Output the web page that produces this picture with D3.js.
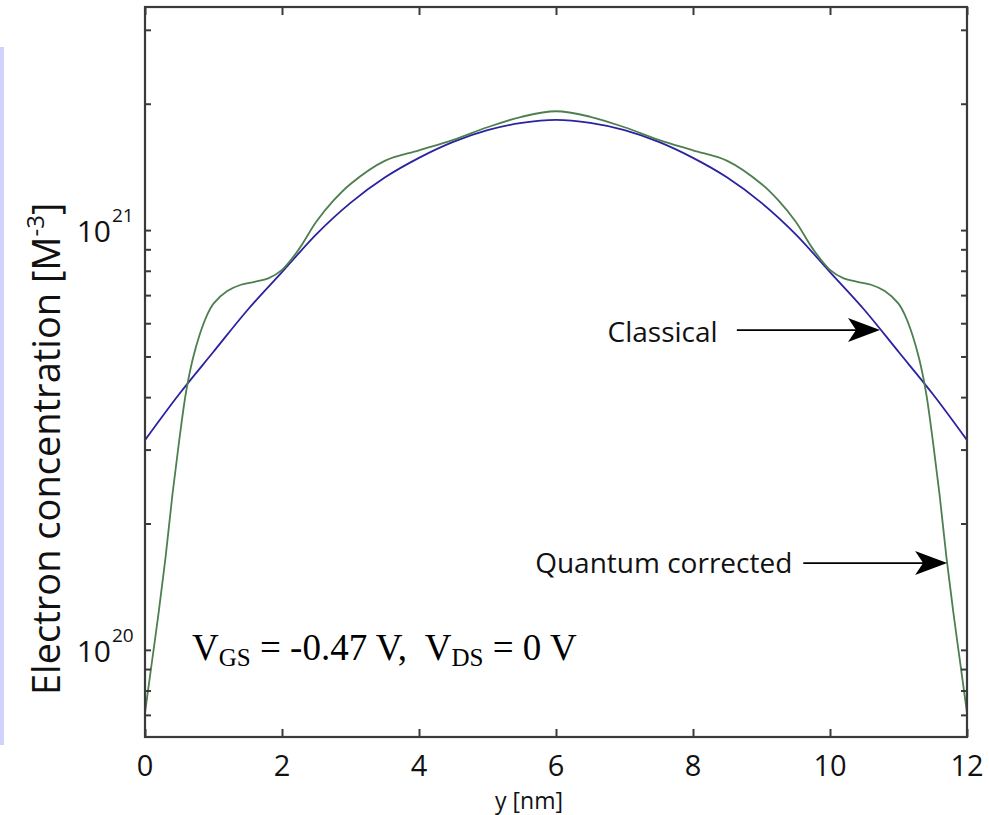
<!DOCTYPE html>
<html>
<head>
<meta charset="utf-8">
<script src="https://cdn.jsdelivr.net/npm/d3@7"></script>
<style>
  html, body { margin: 0; padding: 0; background: #fff; }
  svg { display: block; }
</style>
</head>
<body>
<svg id="chart" width="989" height="815"></svg>
<script>
// ---- data ----
const classicalX = [0,0.5,1,1.5,2,2.5,3,3.5,4,4.5,5,5.5,6,6.5,7,7.5,8,8.5,9,9.5,10,10.5,11,11.5,12];
const classicalN = [3.16e20,4.07e20,5.13e20,6.46e20,7.94e20,9.77e20,1.161e21,1.334e21,1.486e21,1.622e21,1.73e21,1.80e21,1.83e21,
                    1.80e21,1.73e21,1.622e21,1.486e21,1.334e21,1.161e21,9.77e20,7.94e20,6.46e20,5.13e20,4.07e20,3.16e20];
const quantumX = [0,0.1,0.2,0.3,0.4,0.5,0.6,0.7,0.8,0.9,1.0,1.2,1.4,1.6,1.8,2.0,2.25,2.5,2.75,3.0,3.5,4.0,4.5,5.0,5.5,6.0,
                  6.5,7.0,7.5,8.0,8.5,9.0,9.25,9.5,9.75,10.0,10.2,10.4,10.6,10.8,11.0,11.1,11.2,11.3,11.4,11.5,11.6,11.7,11.8,11.9,12.0];
const quantumN = [7.08e19,9.33e19,1.23e20,1.66e20,2.34e20,3.16e20,4.12e20,4.95e20,5.65e20,6.24e20,6.68e20,7.16e20,7.41e20,7.53e20,7.67e20,8.04e20,
                  9.02e20,1.047e21,1.175e21,1.288e21,1.462e21,1.549e21,1.641e21,1.758e21,1.862e21,1.919e21,
                  1.862e21,1.758e21,1.641e21,1.549e21,1.462e21,1.288e21,1.175e21,1.047e21,9.02e20,
                  8.04e20,7.67e20,7.53e20,7.41e20,7.16e20,6.68e20,6.24e20,5.65e20,4.95e20,4.12e20,3.16e20,2.34e20,1.66e20,1.23e20,9.33e19,7.08e19];
const xTicks = [0,2,4,6,8,10,12];
const yMajorTicks = [1e20, 1e21];
const yMinorTicks = [7e19,8e19,9e19,2e20,3e20,4e20,5e20,6e20,7e20,8e20,9e20,2e21,3e21];
const yExponents = ["20","21"];

const svg = d3.select("#chart");
const L = 145, R = 967, T = 7, B = 737;
const x = d3.scaleLinear().domain([0,12]).range([L, R]);
const y = d3.scaleLog().domain([6.2e19, 3.4e21]).range([B, T]);

const sans = "'Open Sans', 'Noto Sans', sans-serif";
const axisColor = "#3a3a3a";

// left lavender strip
svg.append("rect").attr("x",0).attr("y",47).attr("width",4).attr("height",698).attr("fill","#d2d3fc");

// curves
const line = d3.line().curve(d3.curveCatmullRom.alpha(0.5));
svg.append("path")
  .attr("d", line(classicalX.map((v,i)=>[x(v), y(classicalN[i])])))
  .attr("fill","none").attr("stroke","#2a22a0").attr("stroke-width",1.8);
svg.append("path")
  .attr("d", line(quantumX.map((v,i)=>[x(v), y(quantumN[i])])))
  .attr("fill","none").attr("stroke","#4d7f50").attr("stroke-width",1.8);

// frame and ticks
const g = svg.append("g");
const axB = d3.axisBottom(x).tickValues(xTicks).tickSize(-8).tickFormat("");
const axT = d3.axisTop(x).tickValues(xTicks).tickSize(-8).tickFormat("");
g.append("g").attr("transform",`translate(0,${B})`).call(axB);
g.append("g").attr("transform",`translate(0,${T})`).call(axT);
const yTicksAll = yMajorTicks.concat(yMinorTicks);
g.append("g").attr("transform",`translate(${L},0)`).call(d3.axisLeft(y).tickValues(yTicksAll).tickSize(-6).tickFormat(""));
g.append("g").attr("transform",`translate(${R},0)`).call(d3.axisRight(y).tickValues(yTicksAll).tickSize(-6).tickFormat(""));
g.selectAll(".domain").remove();
g.selectAll(".tick line").attr("stroke",axisColor).attr("stroke-width",2);
svg.append("rect").attr("x",L).attr("y",T).attr("width",R-L).attr("height",B-T)
  .attr("fill","none").attr("stroke",axisColor).attr("stroke-width",2.2);

// x tick labels
svg.append("g").selectAll("text").data(xTicks).join("text")
  .attr("x", d=>x(d)).attr("y", 776)
  .attr("text-anchor","middle").attr("font-family",sans).attr("font-size",29).attr("fill","#111")
  .text(d=>d);
// x axis title
svg.append("text").attr("x", 529).attr("y", 809).attr("text-anchor","middle")
  .attr("font-family",sans).attr("font-size",23).attr("fill","#111").text("y [nm]");

// y tick labels 10^n
yMajorTicks.forEach((v,i)=>{
  svg.append("text").attr("x", 111).attr("y", y(v)+12).attr("text-anchor","end")
    .attr("font-family",sans).attr("font-size",30).attr("fill","#111").text("10");
  svg.append("text").attr("x", 112).attr("y", y(v)-8).attr("text-anchor","start")
    .attr("font-family",sans).attr("font-size",19).attr("fill","#111").text(yExponents[i]);
});

// y axis title
const yt = svg.append("text").attr("transform","translate(60,695) rotate(-90)")
  .attr("font-family",sans).attr("font-size",38).attr("fill","#111");
yt.append("tspan").text("Electron concentration [M");
yt.append("tspan").attr("font-size",24).attr("dy",-16).text("-3");
yt.append("tspan").attr("dy",16).text("]");

// arrows
function arrow(x1, x2, yy){
  svg.append("line").attr("x1",x1).attr("x2",x2-20).attr("y1",yy).attr("y2",yy)
    .attr("stroke","#000").attr("stroke-width",1.8);
  svg.append("path")
    .attr("d",`M${x2},${yy} L${x2-32},${yy-12} L${x2-24},${yy} L${x2-32},${yy+12} Z`)
    .attr("fill","#000");
}
const cTipX = x(10.73), cTipY = y(5.78e20);
arrow(x(8.64), cTipX, cTipY);
svg.append("text").attr("x", x(8.36)).attr("y", cTipY+12).attr("text-anchor","end")
  .attr("font-family",sans).attr("font-size",28).attr("fill","#111").text("Classical");
const qTipX = x(11.71), qTipY = y(1.61e20);
arrow(x(9.61), qTipX, qTipY);
svg.append("text").attr("x", x(9.45)).attr("y", qTipY+10).attr("text-anchor","end")
  .attr("font-family",sans).attr("font-size",28).attr("fill","#111").text("Quantum corrected");

// V annotation (Times)
const serif = "'Liberation Serif', 'Times New Roman', serif";
const vt = svg.append("text").attr("x", 192).attr("y", 660)
  .attr("font-family",serif).attr("font-size",37).attr("fill","#000").attr("xml:space","preserve");
vt.append("tspan").text("V");
vt.append("tspan").attr("font-size",25).attr("dy",6).text("GS");
vt.append("tspan").attr("dy",-6).text(" = -0.47 V,  V");
vt.append("tspan").attr("font-size",25).attr("dy",6).text("DS");
vt.append("tspan").attr("dy",-6).text(" = 0 V");
</script>
</body>
</html>
